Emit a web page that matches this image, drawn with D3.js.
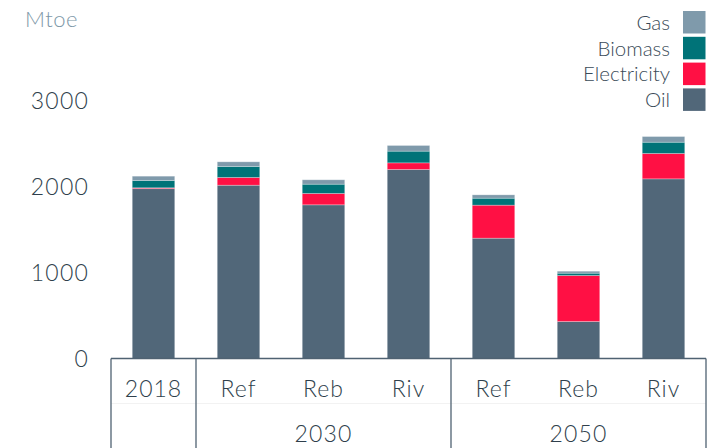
<!DOCTYPE html>
<html>
<head>
<meta charset="utf-8">
<script src="https://cdn.jsdelivr.net/npm/d3@7"></script>
<style>
  html, body { margin: 0; padding: 0; background: #fff; }
  svg { display: block; font-family: Lato, "Open Sans", sans-serif; font-weight: 300; }
</style>
</head>
<body>
<svg id="chart" width="712" height="448"></svg>
<script>
// ---- data ----
const categories = ["2018", "Ref", "Reb", "Riv", "Ref", "Reb", "Riv"];
const groupLabels = ["2030", "2050"];
const groupOfCategory = [null, "2030", "2030", "2030", "2050", "2050", "2050"];
const seriesNames = ["Oil", "Electricity", "Biomass", "Gas"];
const oil = [1975, 2015, 1787, 2198, 1399, 430, 2089];
const electricity = [10, 90, 132, 77, 384, 535, 295];
const biomass = [85, 128, 108, 136, 81, 27, 131];
const gas = [50, 54, 51, 66, 39, 23, 66];
const yTicks = [0, 1000, 2000, 3000];
const colors = { Oil: "#516779", Electricity: "#ff1044", Biomass: "#007378", Gas: "#7f9aab" };

// ---- build table ----
const rows = categories.map((c, i) => ({
  idx: i, Oil: oil[i], Electricity: electricity[i], Biomass: biomass[i], Gas: gas[i]
}));
const stacked = d3.stack().keys(seriesNames)(rows);

const svg = d3.select("#chart");
const left = 111, right = 706, baseY = 358.5, topY = 100.5;

const x = d3.scaleBand().domain(d3.range(categories.length))
  .range([left, right]).paddingInner(0.5).paddingOuter(0.25);
const y = d3.scaleLinear().domain([0, 3000]).range([baseY, topY]);

// bars
svg.append("g").selectAll("g").data(stacked).join("g")
  .attr("fill", d => colors[d.key])
  .selectAll("rect").data(d => d).join("rect")
  .attr("x", d => x(d.data.idx))
  .attr("width", x.bandwidth())
  .attr("y", d => y(d[1]))
  .attr("height", d => Math.max(0, y(d[0]) - y(d[1])))
  .attr("stroke", "rgba(255,255,255,0.35)")
  .attr("stroke-width", 0.8);

const textColor = "#2f3f4c";

// y axis labels (no line)
const yAxis = d3.axisLeft(y).tickValues(yTicks).tickFormat(d3.format("d")).tickSize(0).tickPadding(0);
const yg = svg.append("g").attr("transform", `translate(89,0)`).call(yAxis);
yg.select(".domain").remove();
yg.selectAll("text").attr("font-size", 23).attr("fill", textColor)
  .attr("font-family", "Lato, sans-serif").attr("font-weight", 300).attr("letter-spacing", 1.2)
  .attr("dy", "0.36em");

// unit label
svg.append("text").attr("x", 25).attr("y", 27).text("Mtoe")
  .attr("font-size", 22).attr("fill", "#7d97a8").attr("letter-spacing", 0.5);

// x axis frame
const frame = svg.append("g").attr("stroke", "#4f6272").attr("stroke-width", 1.3).attr("fill", "none");
frame.append("line").attr("x1", left).attr("x2", right).attr("y1", baseY).attr("y2", baseY);
frame.append("line").attr("x1", left).attr("x2", right).attr("y1", 403.5).attr("y2", 403.5)
  .attr("stroke", "#f2f2f2").attr("stroke-width", 1);
const step = x.step();
const seps = [left, right];
for (let i = 1; i < categories.length; i++) {
  if (groupOfCategory[i] !== groupOfCategory[i - 1]) seps.push(x(i) + x.bandwidth() / 2 - step / 2);
}
seps.forEach(sx => frame.append("line").attr("x1", sx).attr("x2", sx).attr("y1", baseY).attr("y2", 448));

// category labels
const xAxis = d3.axisBottom(x).tickFormat(i => categories[i]).tickSize(0).tickPadding(0);
const xg = svg.append("g").attr("transform", `translate(0,389)`).call(xAxis);
xg.select(".domain").remove();
xg.selectAll("text").attr("font-size", 23).attr("fill", textColor)
  .attr("font-family", "Lato, sans-serif").attr("font-weight", 300).attr("letter-spacing", 1)
  .attr("dy", "0.36em");

// group labels
groupLabels.forEach(g => {
  const idxs = d3.range(categories.length).filter(i => groupOfCategory[i] === g);
  const cx = d3.mean(idxs, i => x(i) + x.bandwidth() / 2);
  svg.append("text").attr("x", cx).attr("y", 434).attr("dy", "0.36em")
    .attr("text-anchor", "middle").attr("font-size", 23).attr("fill", textColor)
    .attr("letter-spacing", 1.2).text(g);
});

// legend
const legendOrder = ["Gas", "Biomass", "Electricity", "Oil"];
const lg = svg.append("g");
legendOrder.forEach((k, i) => {
  const ly = 11 + i * 25.8;
  lg.append("rect").attr("x", 683).attr("y", ly).attr("width", 22.5).attr("height", 22.5)
    .attr("fill", colors[k]);
  lg.append("text").attr("x", 670).attr("y", ly + 11.5).attr("dy", "0.36em")
    .attr("text-anchor", "end").attr("font-size", 20.5).attr("fill", "#3a4b58").text(k);
});
</script>
</body>
</html>
